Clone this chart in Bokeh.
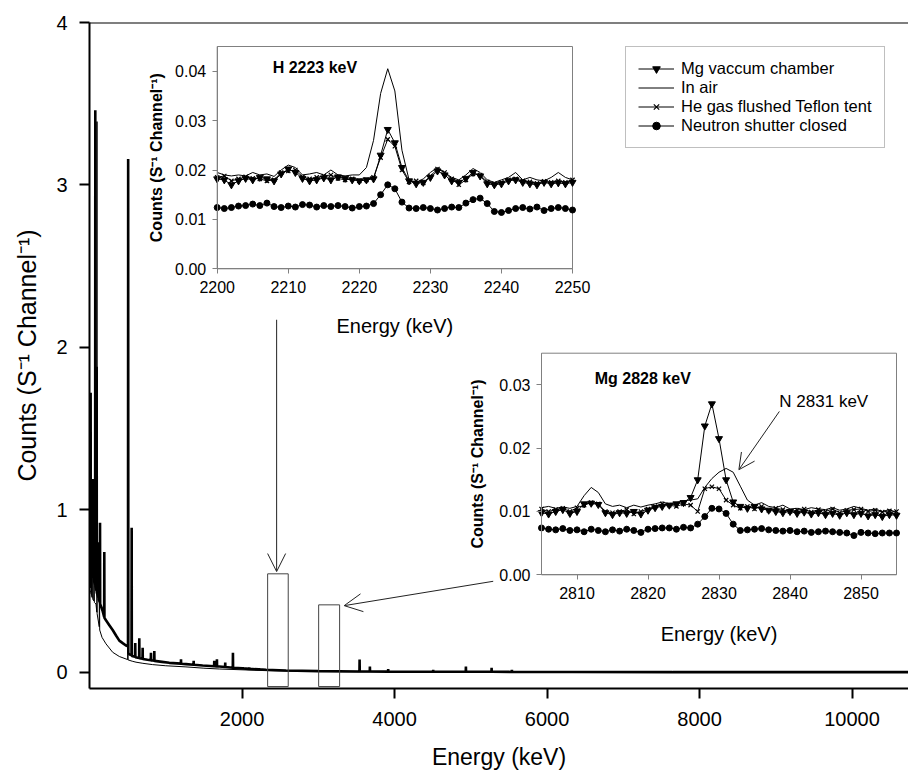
from math import pi
from bokeh.plotting import figure
from bokeh.models import (Range1d, LinearAxis, FixedTicker, NumeralTickFormatter, Span,
                          Arrow, OpenHead, Legend, LegendItem, Label)
from bokeh.embed import file_html
from bokeh.resources import INLINE

FONT = "Liberation Sans"

# ---------------- main spectrum (energy keV, counts) ----------------
thick_pts = [(5, 0.52), (13, 0.55), (15, 1.72), (17, 0.58), (30, 0.60), (44, 0.60), (46, 1.19),
             (48, 0.60), (57, 0.58), (59, 1.09), (61, 0.56), (74, 0.54), (76, 3.46), (78, 0.53),
             (92, 0.50), (94, 1.88), (96, 0.49), (110, 0.47), (118, 0.46), (120, 0.80), (122, 0.45),
             (128, 0.44), (136, 0.43), (138, 0.92), (140, 0.42), (170, 0.38), (192, 0.34),
             (194, 0.74), (196, 0.335), (216, 0.32), (260, 0.29), (304, 0.26), (350, 0.225),
             (391, 0.195), (440, 0.178), (478, 0.165), (505, 0.16), (507, 3.16), (509, 0.12),
             (521, 0.11), (551, 0.105), (553, 0.89), (555, 0.10), (598, 0.095), (600, 0.18),
             (602, 0.093), (651, 0.088), (653, 0.21), (655, 0.086), (695, 0.083), (697, 0.15),
             (699, 0.082), (760, 0.077), (804, 0.074), (806, 0.12), (808, 0.073), (828, 0.072),
             (848, 0.071), (850, 0.13), (852, 0.07), (950, 0.064), (1046, 0.058), (1198, 0.053),
             (1200, 0.08), (1202, 0.052), (1265, 0.05), (1364, 0.046), (1366, 0.07), (1368, 0.046),
             (1484, 0.042), (1634, 0.037), (1636, 0.07), (1638, 0.037), (1669, 0.036), (1671, 0.08),
             (1673, 0.036), (1702, 0.035), (1778, 0.032), (1780, 0.06), (1782, 0.032), (1879, 0.028),
             (1881, 0.12), (1883, 0.027), (2006, 0.024), (2008, 0.032), (2010, 0.024), (2093, 0.021),
             (2095, 0.03), (2097, 0.021), (2221, 0.018), (2223, 0.026), (2225, 0.018), (2314, 0.015),
             (2576, 0.011), (3000, 0.007), (3540, 0.005), (3542, 0.078), (3544, 0.005), (3675, 0.005),
             (3677, 0.035), (3679, 0.005), (3915, 0.004), (3917, 0.02), (3919, 0.004), (4505, 0.003),
             (4507, 0.015), (4509, 0.003), (4934, 0.003), (4936, 0.035), (4938, 0.003), (5271, 0.003),
             (5273, 0.028), (5275, 0.003), (5537, 0.002), (5539, 0.015), (5541, 0.002), (6333, 0.002),
             (6335, 0.008), (6337, 0.002), (7640, 0.001), (7642, 0.006), (7644, 0.001), (9000, 0.001),
             (10740, 0.001)]
thin_pts = [(5, 0.48), (13, 0.50), (20, 0.50), (24, 0.70), (27, 0.47), (35, 0.46), (40, 0.95),
            (43, 0.45), (55, 0.44), (60, 0.78), (64, 0.43), (85, 0.42), (96, 0.37), (98, 3.39),
            (100, 0.36), (128, 0.28), (130, 0.62), (134, 0.26), (164, 0.215), (216, 0.175),
            (304, 0.123), (391, 0.097), (500, 0.078), (503, 3.10), (506, 0.076), (560, 0.068),
            (610, 0.062), (700, 0.055), (828, 0.047), (1000, 0.040), (1265, 0.033), (1500, 0.025),
            (1702, 0.020), (2314, 0.010), (2576, 0.007), (3500, 0.003), (5000, 0.0015),
            (10740, 0.0008)]
thick_E = [e for e, _ in thick_pts]
thick_C = [c for _, c in thick_pts]
thin_E = [e for e, _ in thin_pts]
thin_C = [c for _, c in thin_pts]

# ---------------- inset 1 : H 2223 keV ----------------
h_E = list(range(2200, 2251))
h_mg = [0.0182, 0.0180, 0.0170, 0.0178, 0.0183, 0.0180, 0.0185, 0.0182, 0.0178, 0.0192, 0.0202,
        0.0195, 0.0183, 0.0178, 0.0180, 0.0184, 0.0180, 0.0186, 0.0183, 0.0180, 0.0178, 0.0180,
        0.0182, 0.0230, 0.0282, 0.0255, 0.0205, 0.0178, 0.0172, 0.0175, 0.0185, 0.0198, 0.0190,
        0.0178, 0.0175, 0.0183, 0.0195, 0.0188, 0.0172, 0.0170, 0.0172, 0.0178, 0.0180, 0.0175,
        0.0172, 0.0170, 0.0175, 0.0172, 0.0174, 0.0172, 0.0175]
h_air = [0.0195, 0.0190, 0.0188, 0.0190, 0.0188, 0.0195, 0.0190, 0.0192, 0.0187, 0.0200, 0.0210,
         0.0205, 0.0190, 0.0192, 0.0195, 0.0190, 0.0200, 0.0190, 0.0188, 0.0190, 0.0190, 0.0205,
         0.0260, 0.0355, 0.0405, 0.0360, 0.0240, 0.0180, 0.0175, 0.0182, 0.0195, 0.0205, 0.0195,
         0.0185, 0.0180, 0.0190, 0.0203, 0.0195, 0.0180, 0.0175, 0.0180, 0.0185, 0.0195, 0.0180,
         0.0185, 0.0180, 0.0178, 0.0185, 0.0195, 0.0185, 0.0180]
h_he = [0.0185, 0.0188, 0.0178, 0.0182, 0.0186, 0.0183, 0.0182, 0.0178, 0.0180, 0.0195, 0.0198,
        0.0200, 0.0186, 0.0182, 0.0185, 0.0188, 0.0190, 0.0183, 0.0180, 0.0182, 0.0178, 0.0180,
        0.0185, 0.0225, 0.0262, 0.0248, 0.0200, 0.0176, 0.0178, 0.0174, 0.0188, 0.0202, 0.0195,
        0.0182, 0.0170, 0.0180, 0.0192, 0.0190, 0.0176, 0.0172, 0.0175, 0.0180, 0.0182, 0.0178,
        0.0176, 0.0173, 0.0177, 0.0175, 0.0178, 0.0175, 0.0180]
h_shut = [0.0124, 0.0122, 0.0124, 0.0127, 0.0128, 0.0131, 0.0128, 0.0133, 0.0126, 0.0124, 0.0127,
          0.0125, 0.0130, 0.0129, 0.0125, 0.0128, 0.0126, 0.0128, 0.0126, 0.0123, 0.0126, 0.0127,
          0.0132, 0.0150, 0.0170, 0.0162, 0.0135, 0.0123, 0.0122, 0.0124, 0.0122, 0.0119, 0.0122,
          0.0125, 0.0124, 0.0133, 0.0140, 0.0143, 0.0132, 0.0116, 0.0114, 0.0118, 0.0122, 0.0124,
          0.0121, 0.0125, 0.0118, 0.0122, 0.0124, 0.0122, 0.0119]

# ---------------- inset 2 : Mg 2828 keV ----------------
m_E = list(range(2805, 2856))
m_mg = [0.0098, 0.0096, 0.0100, 0.0103, 0.0097, 0.0100, 0.0112, 0.0113, 0.0111, 0.0098, 0.0095,
        0.0098, 0.0097, 0.0100, 0.0096, 0.0102, 0.0106, 0.0108, 0.0110, 0.0112, 0.0114, 0.0122,
        0.0150, 0.0235, 0.0270, 0.0215, 0.0150, 0.0115, 0.0108, 0.0105, 0.0108, 0.0104, 0.0102,
        0.0100, 0.0098, 0.0100, 0.0097, 0.0099, 0.0096, 0.0098, 0.0095, 0.0097, 0.0094, 0.0098,
        0.0095, 0.0097, 0.0093, 0.0095, 0.0092, 0.0095, 0.0094]
m_air = [0.0106, 0.0108, 0.0105, 0.0107, 0.0105, 0.0108, 0.0125, 0.0138, 0.0130, 0.0112, 0.0108,
         0.0110, 0.0106, 0.0110, 0.0107, 0.0110, 0.0112, 0.0115, 0.0112, 0.0114, 0.0117, 0.0118,
         0.0120, 0.0138, 0.0152, 0.0162, 0.0168, 0.0162, 0.0140, 0.0118, 0.0110, 0.0114, 0.0108,
         0.0106, 0.0110, 0.0104, 0.0105, 0.0103, 0.0106, 0.0104, 0.0103, 0.0106, 0.0102, 0.0104,
         0.0108, 0.0105, 0.0102, 0.0104, 0.0100, 0.0103, 0.0098]
m_he = [0.0104, 0.0100, 0.0103, 0.0105, 0.0100, 0.0106, 0.0110, 0.0114, 0.0112, 0.0100, 0.0098,
        0.0100, 0.0103, 0.0096, 0.0100, 0.0104, 0.0108, 0.0112, 0.0110, 0.0108, 0.0112, 0.0110,
        0.0100, 0.0136, 0.0139, 0.0136, 0.0118, 0.0110, 0.0105, 0.0108, 0.0104, 0.0108, 0.0102,
        0.0105, 0.0103, 0.0100, 0.0102, 0.0104, 0.0099, 0.0103, 0.0100, 0.0104, 0.0098, 0.0102,
        0.0103, 0.0104, 0.0100, 0.0102, 0.0099, 0.0101, 0.0100]
m_shut = [0.0074, 0.0072, 0.0071, 0.0073, 0.0070, 0.0071, 0.0068, 0.0072, 0.0070, 0.0068, 0.0071,
          0.0069, 0.0072, 0.0070, 0.0067, 0.0072, 0.0073, 0.0074, 0.0074, 0.0072, 0.0075, 0.0074,
          0.0080, 0.0092, 0.0105, 0.0104, 0.0097, 0.0080, 0.0070, 0.0071, 0.0072, 0.0073, 0.0071,
          0.0070, 0.0069, 0.0070, 0.0068, 0.0069, 0.0067, 0.0068, 0.0069, 0.0068, 0.0067, 0.0066,
          0.0062, 0.0067, 0.0066, 0.0065, 0.0066, 0.0066, 0.0066]

# ---------------- ticks / labels ----------------
x_ticks_main = [2000, 4000, 6000, 8000, 10000]
y_ticks_main = [0, 1, 2, 3, 4]
h_xticks = [2200, 2210, 2220, 2230, 2240, 2250]
h_yticks = [0.0, 0.01, 0.02, 0.03, 0.04]
m_xticks = [2810, 2820, 2830, 2840, 2850]
m_yticks = [0.0, 0.01, 0.02, 0.03]
h_xlim, h_ylim = (2200, 2250), (0.0, 0.045)
m_xlim, m_ylim = (2805, 2855), (0.0, 0.035)
labels = ["Mg vaccum chamber", "In air", "He gas flushed Teflon tent", "Neutron shutter closed"]
ylab = "Counts (S\u207b\u00b9 Channel\u207b\u00b9)"
xlab = "Energy (keV)"

# ---------------- layout (page pixels) ----------------
FIG_W, FIG_H = 908, 777
FL, FT, FR, FB = 89, 22, 908, 688          # main frame
H_BOX = (216.7, 46.0, 572.0, 268.3)        # inset 1: left, top, right, bottom
M_BOX = (541.0, 352.7, 896.0, 574.3)       # inset 2


def xr(lim, box):
    s = (box[2] - box[0]) / (lim[1] - lim[0])
    return Range1d(lim[0] - (box[0] - FL) / s, lim[1] + (FR - box[2]) / s)


def yr(lim, box):
    s = (box[3] - box[1]) / (lim[1] - lim[0])
    return Range1d(lim[0] - (FB - box[3]) / s, lim[1] + (box[1] - FT) / s)


p = figure(width=FIG_W, height=FIG_H, title=None, x_range=Range1d(0, 10740), y_range=Range1d(-0.1, 4.0),
           output_backend="svg", toolbar_location=None,
           min_border_left=FL, min_border_right=FIG_W - FR, min_border_top=FT, min_border_bottom=FIG_H - FB)
p.outline_line_color = None
p.xgrid.visible = False
p.ygrid.visible = False
p.background_fill_color = "white"
p.border_fill_color = "white"

p.extra_x_ranges = {"hx": xr(h_xlim, H_BOX), "mx": xr(m_xlim, M_BOX)}
p.extra_y_ranges = {"hy": yr(h_ylim, H_BOX), "my": yr(m_ylim, M_BOX)}

# main axes
ax = p.xaxis[0]
ax.ticker = FixedTicker(ticks=x_ticks_main)
ay = p.yaxis[0]
ay.ticker = FixedTicker(ticks=y_ticks_main)
for a in (ax, ay):
    a.axis_line_width = 2
    a.axis_line_color = "black"
    a.major_tick_line_width = 2
    a.major_tick_out = 10
    a.major_tick_in = 0
    a.minor_tick_line_color = None
    a.major_label_text_font = FONT
    a.major_label_text_font_size = "20px"
    a.major_label_text_color = "black"
    a.axis_label_text_font = FONT
    a.axis_label_text_font_style = "normal"
    a.axis_label_text_color = "black"
ax.axis_label = xlab
ax.axis_label_text_font_size = "23px"
ax.major_label_standoff = 13
ax.axis_label_standoff = 15
ay.axis_label = ylab
ay.axis_label_text_font_size = "25px"
ay.major_label_standoff = 12
ay.axis_label_standoff = 12

p.add_layout(Span(location=4.0, dimension="width", line_color="black", line_width=2))

# main spectrum
p.line(thick_E, thick_C, line_color="black", line_width=2.6)
p.line(thin_E, thin_C, line_color="black", line_width=1)

# zoom boxes
box_left = [2336, 3005]
box_right = [2606, 3280]
box_bottom = [-0.088, -0.088]
box_top = [0.606, 0.415]
p.quad(left=box_left, right=box_right, bottom=box_bottom, top=box_top,
       fill_color=None, line_color="#444444", line_width=1)

p.add_layout(Arrow(end=OpenHead(size=18, line_width=1, line_color="#222222"),
                   x_start=2454, y_start=2.17, x_end=2454, y_end=0.62,
                   line_color="#222222", line_width=1))
p.add_layout(Arrow(end=OpenHead(size=18, line_width=1, line_color="#222222"),
                   x_start=5294, y_start=0.56, x_end=3340, y_end=0.41,
                   line_color="#222222", line_width=1))


def inset(xn, yn, xlim, ylim, xt, yt, E, mg, air, he, shut, xlab_y, ylab_x):
    p.quad(left=[xlim[0]], right=[xlim[1]], bottom=[ylim[0]], top=[ylim[1]],
           fill_color="white", line_color="#808080", line_width=1, x_range_name=xn, y_range_name=yn)
    kw = dict(x_range_name=xn, y_range_name=yn)
    r_sl = p.line(E, shut, line_color="black", line_width=1, **kw)
    r_ss = p.scatter(E, shut, marker="circle", size=6, fill_color="black", line_color="black", **kw)
    r_hl = p.line(E, he, line_color="black", line_width=1, **kw)
    r_hs = p.scatter(E, he, marker="x", size=6, line_color="black", line_width=1.2, **kw)
    r_ml = p.line(E, mg, line_color="black", line_width=1, **kw)
    r_ms = p.scatter(E, mg, marker="inverted_triangle", size=7, fill_color="black", line_color="black", **kw)
    r_al = p.line(E, air, line_color="black", line_width=1, **kw)
    bx = LinearAxis(x_range_name=xn, y_range_name=yn, fixed_location=ylim[0], bounds=xlim,
                    ticker=FixedTicker(ticks=xt))
    by = LinearAxis(x_range_name=xn, y_range_name=yn, fixed_location=xlim[0], bounds=ylim,
                    ticker=FixedTicker(ticks=yt), formatter=NumeralTickFormatter(format="0.00"))
    for a in (bx, by):
        a.axis_line_color = "#808080"
        a.axis_line_width = 1
        a.major_tick_line_color = "#808080"
        a.major_tick_out = 5
        a.major_tick_in = 0
        a.minor_tick_line_color = None
        a.major_label_text_font = FONT
        a.major_label_text_font_size = "16px"
        a.major_label_text_color = "black"
    bx.major_label_standoff = 7
    by.major_label_standoff = 6
    p.add_layout(bx, "below")
    p.add_layout(by, "left")
    p.add_layout(Label(x=(xlim[0] + xlim[1]) / 2, y=xlab_y, text=xlab, text_font=FONT,
                       text_font_size="20px", text_align="center", text_baseline="middle",
                       text_color="black", **kw))
    p.add_layout(Label(x=ylab_x, y=(ylim[0] + ylim[1]) / 2, text=ylab, text_font=FONT,
                       text_font_size="16px", text_font_style="bold", angle=pi / 2,
                       text_align="center", text_baseline="middle", text_color="black", **kw))
    return (r_ml, r_ms), (r_al,), (r_hl, r_hs), (r_sl, r_ss)


h_rends = inset("hx", "hy", h_xlim, h_ylim, h_xticks, h_yticks, h_E, h_mg, h_air, h_he, h_shut,
                -0.0115, 2191.5)
inset("mx", "my", m_xlim, m_ylim, m_xticks, m_yticks, m_E, m_mg, m_air, m_he, m_shut,
      -0.0093, 2796.0)

p.add_layout(Label(x=2207.8, y=0.0408, x_range_name="hx", y_range_name="hy", text="H 2223 keV",
                   text_font=FONT, text_font_size="16px", text_font_style="bold",
                   text_baseline="middle", text_align="left", text_color="black"))
p.add_layout(Label(x=2812.5, y=0.031, x_range_name="mx", y_range_name="my", text="Mg 2828 keV",
                   text_font=FONT, text_font_size="16px", text_font_style="bold",
                   text_baseline="middle", text_align="left", text_color="black"))
p.add_layout(Label(x=2838.5, y=0.0273, x_range_name="mx", y_range_name="my", text="N 2831 keV",
                   text_font=FONT, text_font_size="17px",
                   text_baseline="middle", text_align="left", text_color="black"))
p.add_layout(Arrow(end=OpenHead(size=16, line_width=1, line_color="#222222"),
                   x_start=2838.5, y_start=0.0258, x_end=2832.8, y_end=0.0166,
                   x_range_name="mx", y_range_name="my", line_color="#222222", line_width=1))

legend = Legend(items=[LegendItem(label=lab, renderers=list(r)) for lab, r in zip(labels, h_rends)],
                location=(625 - FL, FB - 148))
legend.label_text_font = FONT
legend.label_text_font_size = "16.5px"
legend.label_text_color = "black"
legend.border_line_color = "#808080"
legend.border_line_width = 1
legend.background_fill_color = "white"
legend.background_fill_alpha = 1
legend.padding = 12
legend.spacing = 0
legend.glyph_width = 36
legend.glyph_height = 19
legend.label_height = 19
legend.label_standoff = 7
legend.margin = 0
p.add_layout(legend)

open("out.html", "w").write(file_html(p, INLINE))
